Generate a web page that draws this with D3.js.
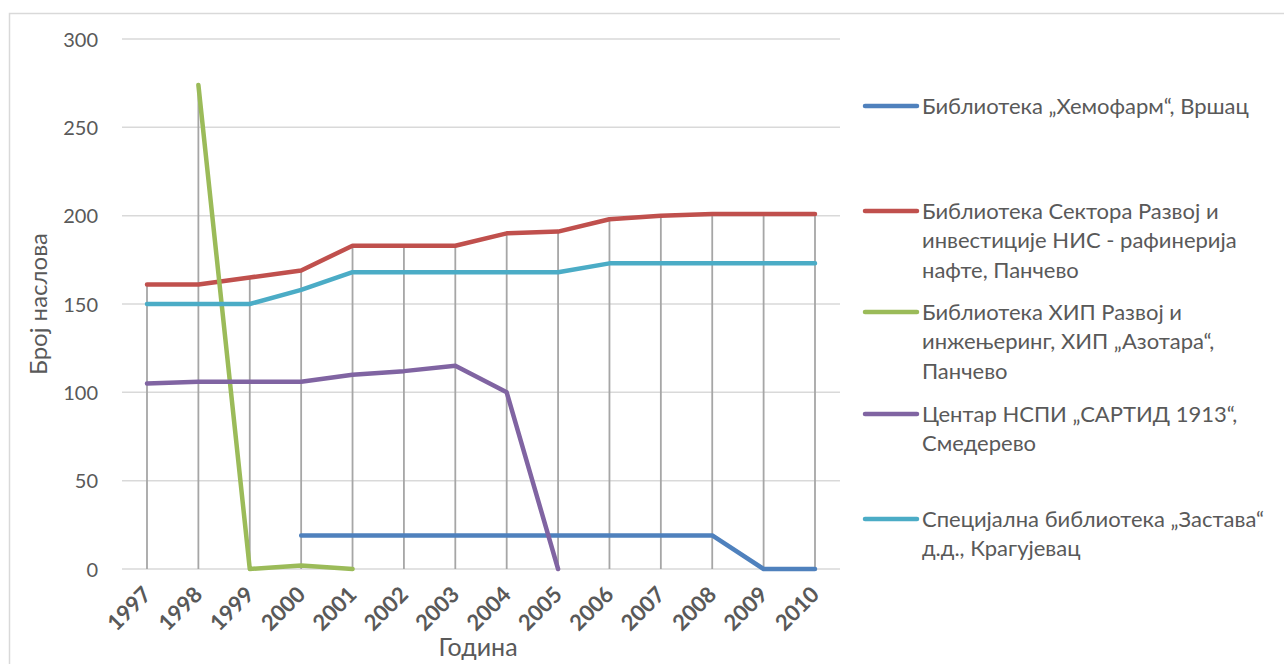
<!DOCTYPE html>
<html><head><meta charset="utf-8">
<script src="https://cdn.jsdelivr.net/npm/d3@7"></script>
<style>body{margin:0;background:#fff;}svg{display:block;}</style>
</head><body>
<svg id="c" width="1284" height="664"></svg>
<script>
const years = ["1997","1998","1999","2000","2001","2002","2003","2004","2005","2006","2007","2008","2009","2010"];
const hemofarm = [null,null,null,19,19,19,19,19,19,19,19,19,0,0];
const nis = [161,161,165,169,183,183,183,190,191,198,200,201,201,201];
const hip = [null,274,0,2,0,null,null,null,null,null,null,null,null,null];
const sartid = [105,106,106,106,110,112,115,100,0,null,null,null,null,null];
const zastava = [150,150,150,158,168,168,168,168,168,173,173,173,173,173];
const yTicks = [0,50,100,150,200,250,300];
const seriesNames = [
  ["Библиотека „Хемофарм“, Вршац"],
  ["Библиотека Сектора Развој и","инвестиције НИС - рафинерија","нафте, Панчево"],
  ["Библиотека ХИП Развој и","инжењеринг, ХИП „Азотара“,","Панчево"],
  ["Центар НСПИ „САРТИД 1913“,","Смедерево"],
  ["Специјална библиотека „Застава“","д.д., Крагујевац"]
];
const seriesValues = [hemofarm, nis, hip, sartid, zastava];
const colors = ["#4f81bd","#c0504d","#9bbb59","#8064a2","#4bacc6"];
const legendY = [106, 211, 312, 414, 519];

const svg = d3.select("#c");
const font = "Lato, 'Open Sans', sans-serif";
svg.append("rect").attr("x",9.5).attr("y",13.5).attr("width",1300).attr("height",700)
  .attr("fill","none").attr("stroke","#d9d9d9").attr("stroke-width",1.5);

const x = d3.scalePoint().domain(years).range([147,815]);
const y = d3.scaleLinear().domain([0,300]).range([569,39]);

// gridlines
svg.append("g").selectAll("line").data(yTicks).join("line")
  .attr("x1",122).attr("x2",840).attr("y1",d=>y(d)).attr("y2",d=>y(d))
  .attr("stroke","#d9d9d9").attr("stroke-width",1.5);

// y axis labels
const yAxis = d3.axisLeft(y).tickValues(yTicks).tickSize(0).tickPadding(0);
const ya = svg.append("g").attr("transform","translate(98,0)").call(yAxis);
ya.select(".domain").remove();
ya.selectAll("text").attr("font-family",font).attr("font-size",20).attr("fill","#595959").attr("dy","0.35em");

// drop lines
const maxes = years.map((yr,i)=>{
  const vals = seriesValues.map(s=>s[i]).filter(v=>v!=null);
  return {yr, m: d3.max(vals)};
});
svg.append("g").selectAll("line").data(maxes).join("line")
  .attr("x1",d=>x(d.yr)).attr("x2",d=>x(d.yr)).attr("y1",d=>y(d.m)).attr("y2",y(0))
  .attr("stroke","#a6a6a6").attr("stroke-width",1.8);

// x axis labels
const xAxis = d3.axisBottom(x).tickSize(0).tickPadding(0);
const xa = svg.append("g").attr("transform","translate(0,569)").call(xAxis);
xa.select(".domain").remove();
xa.selectAll("text").attr("font-family",font).attr("font-size",22).attr("font-weight","bold")
  .attr("fill","#595959").attr("text-anchor","end").attr("dy",null).attr("y",0)
  .attr("transform","translate(5,27) rotate(-45)");

// lines
const line = d3.line().defined(d=>d.v!=null).x(d=>x(d.yr)).y(d=>y(d.v));
seriesValues.forEach((s,i)=>{
  svg.append("path").datum(years.map((yr,j)=>({yr, v:s[j]})))
    .attr("d",line).attr("fill","none").attr("stroke",colors[i]).attr("stroke-width",4.5)
    .attr("stroke-linejoin","round").attr("stroke-linecap","round");
});

// axis titles
svg.append("text").attr("transform","translate(47,304) rotate(-90)").attr("text-anchor","middle")
  .attr("font-family",font).attr("font-size",24).attr("fill","#595959").text("Број наслова");
svg.append("text").attr("x",478).attr("y",656).attr("text-anchor","middle")
  .attr("font-family",font).attr("font-size",25).attr("fill","#595959").text("Година");

// legend
const lg = svg.append("g");
seriesNames.forEach((lines,i)=>{
  const ly = legendY[i];
  lg.append("line").attr("x1",865).attr("x2",917).attr("y1",ly).attr("y2",ly)
    .attr("stroke",colors[i]).attr("stroke-width",4.5).attr("stroke-linecap","round");
  const t = lg.append("text").attr("font-family",font).attr("font-size",22).attr("fill","#595959");
  lines.forEach((ln,k)=>{
    t.append("tspan").attr("x",922).attr("y",ly+k*29.5).attr("dy","0.35em").text(ln);
  });
});
</script>
</body></html>
